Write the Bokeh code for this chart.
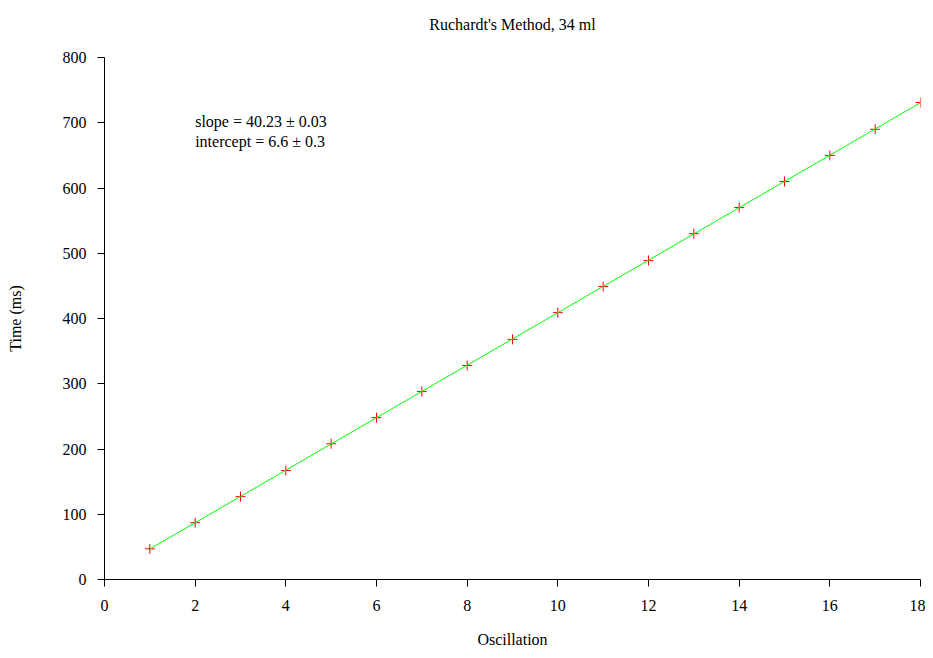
from bokeh.plotting import figure
from bokeh.models import Label, Range1d, FixedTicker
from bokeh.embed import file_html
from bokeh.resources import INLINE

oscillation = list(range(1, 19))
time_ms = [47, 87, 127, 167, 208, 248, 288, 328, 368, 409, 449, 489, 530, 570, 610, 650, 690, 731]
slope = 40.23
intercept = 6.6
fit_x = [1, 18]
fit_y = [slope * x + intercept for x in fit_x]
x_ticks = list(range(0, 19, 2))
y_ticks = list(range(0, 801, 100))
title_text = "Ruchardt's Method, 34 ml"

FONT = "Liberation Serif"
FS = "16px"

p = figure(width=925, height=650, output_backend="svg", toolbar_location=None,
           x_range=Range1d(0, 18), y_range=Range1d(0, 800),
           min_border_left=104, min_border_right=5, min_border_top=57, min_border_bottom=71)
p.title.text = title_text + "\n "
p.title.align = "center"
p.title.text_font = FONT
p.title.text_font_size = FS
p.title.text_font_style = "normal"
p.title.text_color = "black"
p.title.standoff = 16
p.outline_line_color = None
p.grid.visible = False

for ax in (p.xaxis[0], p.yaxis[0]):
    ax.axis_line_color = "black"
    ax.major_tick_line_color = "black"
    ax.major_tick_in = 0
    ax.major_tick_out = 7
    ax.minor_tick_line_color = None
    ax.major_label_text_font = FONT
    ax.major_label_text_font_size = FS
    ax.major_label_text_color = "black"
    ax.axis_label_text_font = FONT
    ax.axis_label_text_font_size = FS
    ax.axis_label_text_font_style = "normal"
    ax.axis_label_text_color = "black"

p.xaxis.ticker = FixedTicker(ticks=x_ticks)
p.yaxis.ticker = FixedTicker(ticks=y_ticks)
p.xaxis.axis_label = "Oscillation"
p.yaxis.axis_label = "Time (ms)"
p.xaxis.major_label_standoff = 13
p.yaxis.major_label_standoff = 11
p.xaxis.axis_label_standoff = 17
p.yaxis.axis_label_standoff = 36

p.scatter(oscillation, time_ms, marker="cross", size=10, line_color="red", line_width=1)
p.line(fit_x, fit_y, line_color="#00ff00", line_width=1)

p.add_layout(Label(x=2, y=702, text="slope = 40.23 ± 0.03", text_font=FONT,
                   text_font_size=FS, text_baseline="middle", text_color="black"))
p.add_layout(Label(x=2, y=671, text="intercept = 6.6 ± 0.3", text_font=FONT,
                   text_font_size=FS, text_baseline="middle", text_color="black"))

open("out.html", "w").write(file_html(p, INLINE))
